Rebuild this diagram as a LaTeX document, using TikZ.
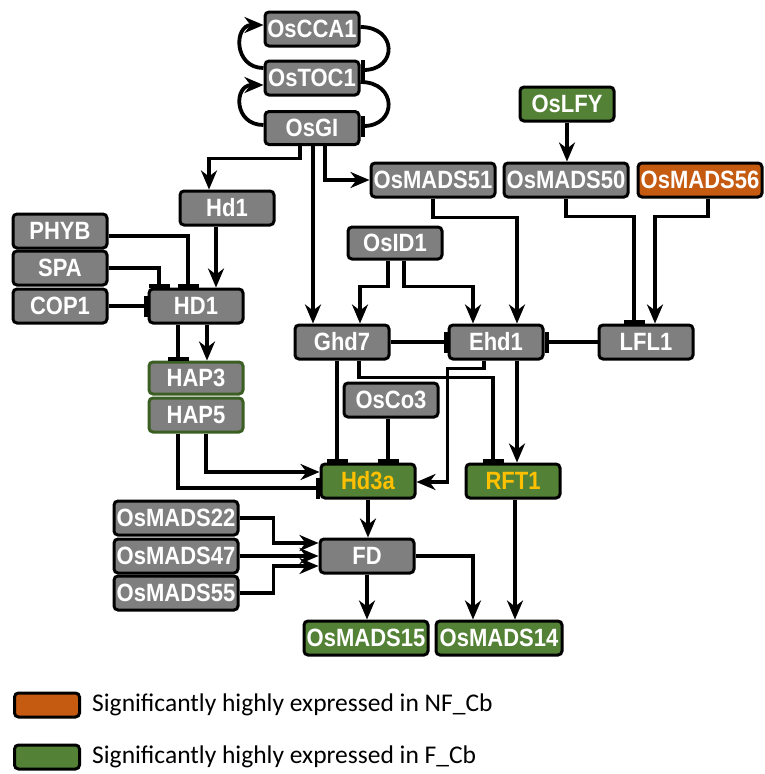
\documentclass[tikz,border=0pt]{standalone}
\usepackage{fontspec}
\usepackage{tikz}
\usetikzlibrary{arrows.meta,positioning}
\newfontfamily\genefont[FakeStretch=0.88]{Liberation Sans}
\newfontfamily\legfont{Carlito}
\definecolor{GeneGray}{HTML}{7F7F7F}
\definecolor{GeneGreen}{HTML}{538135}
\definecolor{GeneOrange}{HTML}{C55A11}
\definecolor{GeneYellow}{HTML}{FFC000}
\definecolor{DarkGreen}{HTML}{3B5E22}

\begin{document}
\begin{tikzpicture}[x=1pt,y=-1pt,
    gene/.style={rounded corners=4pt,fill=GeneGray,draw=black,line width=3pt,
      minimum width=94pt,minimum height=34pt,inner sep=0pt,text=white,
      font=\genefont\bfseries\fontsize{25}{27}\selectfont},
    longgene/.style={gene,minimum width=124pt},
    upgene/.style={fill=GeneGreen},
    act/.style={line width=3.8pt,-{Stealth[length=19pt,width=16pt,inset=6pt]}},
    inh/.style={line width=3.8pt,-{Bar[width=21pt,line width=4pt]}},
    legbox/.style={rounded corners=4pt,draw=black,line width=3pt,
      minimum width=65pt,minimum height=24pt,inner sep=0pt}]
    \useasboundingbox (0,0) rectangle (764,774);

    % clock genes
    \node[gene] (OsCCA1) at (312,29) {OsCCA1};
    \node[gene] (OsTOC1) at (312,78) {OsTOC1};
    \node[gene,minimum height=33pt] (OsGI) at (312,128) {OsGI};

    \node[gene] (Hd1) at (227,208) {Hd1};
    \node[gene] (PHYB) at (60,231) {PHYB};
    \node[gene] (SPA) at (60,268) {SPA};
    \node[gene] (COP1) at (60,306) {COP1};
    \node[gene] (HD1) at (196,306) {HD1};

    \node[gene,upgene] (OsLFY) at (567,104) {OsLFY};
    \node[longgene] (OsMADS51) at (433,180) {OsMADS51};
    \node[longgene] (OsMADS50) at (566,180) {OsMADS50};
    \node[longgene,fill=GeneOrange] (OsMADS56) at (700,180) {OsMADS56};
    \node[gene,minimum height=32pt] (OsID1) at (395,243) {OsID1};

    \node[gene] (Ghd7) at (342,342) {Ghd7};
    \node[gene] (Ehd1) at (496,342) {Ehd1};
    \node[gene] (LFL1) at (646,342) {LFL1};

    \node[gene,draw=DarkGreen,minimum height=32pt] (HAP3) at (196,378) {HAP3};
    \node[gene,draw=DarkGreen] (HAP5) at (196,415) {HAP5};
    \node[gene] (OsCo3) at (391,400) {OsCo3};

    \node[gene,upgene,text=GeneYellow] (Hd3a) at (368,481) {Hd3a};
    \node[gene,upgene,text=GeneYellow] (RFT1) at (513,481) {RFT1};

    \node[longgene] (OsMADS22) at (176,518) {OsMADS22};
    \node[longgene] (OsMADS47) at (176,556) {OsMADS47};
    \node[longgene] (OsMADS55) at (176,593) {OsMADS55};
    \node[gene] (FD) at (367,556) {FD};
    \node[longgene,upgene] (OsMADS15) at (366,638) {OsMADS15};
    \node[longgene,upgene,minimum width=126pt] (OsMADS14) at (499,638) {OsMADS14};

    % clock loops
    \draw[act] ([yshift=10pt]OsTOC1.west) to[out=180,in=180,distance=30pt] ([yshift=4pt]OsCCA1.west);
    \draw[act] ([yshift=3pt]OsGI.west) to[out=180,in=180,distance=30pt] ([yshift=-7pt]OsTOC1.west);
    \draw[inh] ([yshift=2pt]OsCCA1.east) to[out=0,in=0,distance=37pt] ([yshift=8pt]OsTOC1.east);
    \draw[inh] ([yshift=-4pt]OsTOC1.east) to[out=0,in=0,distance=37pt] ([yshift=2pt]OsGI.east);

    % OsGI targets
    \draw[act] ([xshift=-12pt]OsGI.south) -- ++(0,12.5) -| ([xshift=-18pt]Hd1.north);
    \draw[act] ([xshift=1pt]OsGI.south) -- ([xshift=1pt]OsGI.south |- Ghd7.north);
    \draw[act] ([xshift=13pt]OsGI.south) |- (OsMADS51.west);

    % HD1 module
    \draw[act] ([xshift=-11pt]Hd1.south) -- ([xshift=-11pt]Hd1.south |- HD1.north);
    \draw[inh] ([yshift=-5pt]PHYB.east) -| ([xshift=-8pt]HD1.north);
    \draw[inh] (SPA.east) -| ([xshift=-37pt]HD1.north);
    \draw[inh] (COP1.east) -- (HD1.west);
    \draw[inh] ([xshift=-18pt]HD1.south) -- ([xshift=-18pt]HD1.south |- HAP3.north);
    \draw[act] ([xshift=11pt]HD1.south) -- ([xshift=11pt]HD1.south |- HAP3.north);
    \draw[act] ([xshift=10pt]HAP5.south) |- ([yshift=9pt]Hd3a.west);
    \draw[inh] ([xshift=-18pt]HAP5.south) |- ([yshift=-7pt]Hd3a.west);

    % Ehd1 module
    \draw[act] ([xshift=-7pt]OsID1.south) -- ++(0,26) -| ([xshift=18pt]Ghd7.north);
    \draw[act] ([xshift=9pt]OsID1.south) -- ++(0,26) -| ([xshift=-23pt]Ehd1.north);
    \draw[act] (OsMADS51.south) -- ++(0,19) -| ([xshift=21pt]Ehd1.north);
    \draw[act] (OsLFY.south) -- (OsLFY.south |- OsMADS50.north);
    \draw[inh] (OsMADS50.south) -- ++(0,18) -| ([xshift=-12pt]LFL1.north);
    \draw[act] ([xshift=8pt]OsMADS56.south) -- ++(0,18) -| ([xshift=9pt]LFL1.north);
    \draw[inh] (LFL1.west) -- (Ehd1.east);
    \draw[inh] (Ghd7.east) -- (Ehd1.west);

    % florigens
    \draw[inh] ([xshift=-5pt]Ghd7.south) -- ([xshift=-5pt]Ghd7.south |- Hd3a.north);
    \draw[inh] ([xshift=17pt]Ghd7.south) -- ++(0,17) -| ([xshift=-20pt]RFT1.north);
    \draw[inh] ([xshift=-3pt]OsCo3.south) -- ([xshift=-3pt]OsCo3.south |- Hd3a.north);
    \draw[act] ([xshift=-12pt]Ehd1.south) -- ++(0,8) -| ([xshift=31pt,yshift=-1pt]Hd3a.east) -- ([yshift=-1pt]Hd3a.east);
    \draw[act] ([xshift=21pt]Ehd1.south) -- ([xshift=21pt]Ehd1.south |- RFT1.north);

    % FD complex
    \draw[act] (Hd3a.south) -- (Hd3a.south |- FD.north);
    \draw[act] (OsMADS22.east) -- ++(34,0) |- ([yshift=13pt]FD.west);
    \draw[act] (OsMADS47.east) -- (OsMADS47.east -| FD.west);
    \draw[act] (OsMADS55.east) -- ++(34,0) |- ([yshift=-10pt]FD.west);
    \draw[act] (FD.south) -- (FD.south |- OsMADS15.north);
    \draw[act] (FD.east) -| ([xshift=-26pt]OsMADS14.north);
    \draw[act] ([xshift=2pt]RFT1.south) -- ([xshift=2pt]RFT1.south |- OsMADS14.north);

    % legend
    \node[legbox,fill=GeneOrange] (legNF) at (47,705) {};
    \node[right=11pt of legNF,inner sep=0pt,font=\legfont\fontsize{25.5}{28}\selectfont]
      (legNFtext) {Significantly highly expressed in NF\_Cb};
    \node[legbox,fill=GeneGreen] (legF) at (47,757) {};
    \node[right=11pt of legF,inner sep=0pt,font=\legfont\fontsize{25.5}{28}\selectfont]
      (legFtext) {Significantly highly expressed in F\_Cb};
  \end{tikzpicture}
\end{document}
